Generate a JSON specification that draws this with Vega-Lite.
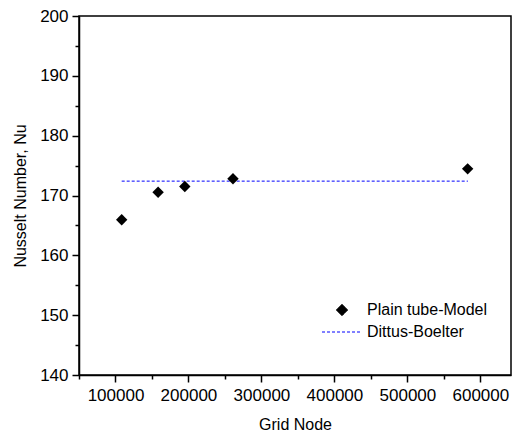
{
  "$schema": "https://vega.github.io/schema/vega-lite/v6.json",
  "width": 432,
  "height": 359,
  "autosize": {"type": "none"},
  "padding": {"left": 79, "top": 16, "right": 1, "bottom": 61},
  "config": {
    "font": "Liberation Sans",
    "view": {"stroke": "black", "strokeWidth": 1.5},
    "axis": {
      "domainColor": "black",
      "domainWidth": 1.5,
      "tickColor": "black",
      "tickWidth": 1.5,
      "grid": false,
      "labelColor": "black",
      "labelFontSize": 17,
      "labelOverlap": false,
      "titleColor": "black",
      "titleFontSize": 16,
      "titleFontWeight": "normal"
    }
  },
  "resolve": {"axis": {"x": "independent", "y": "independent"}},
  "datasets": {
    "model": [
      {"grid_node": 108500, "nu": 165.95, "series": "Plain tube-Model"},
      {"grid_node": 158400, "nu": 170.55, "series": "Plain tube-Model"},
      {"grid_node": 195000, "nu": 171.5, "series": "Plain tube-Model"},
      {"grid_node": 261000, "nu": 172.8, "series": "Plain tube-Model"},
      {"grid_node": 582600, "nu": 174.45, "series": "Plain tube-Model"}
    ],
    "db": [
      {"grid_node": 108500, "nu": 172.4, "series": "Dittus-Boelter"},
      {"grid_node": 583000, "nu": 172.4, "series": "Dittus-Boelter"}
    ]
  },
  "layer": [
    {
      "data": {"name": "db"},
      "mark": {"type": "line", "strokeDash": [3, 2], "strokeWidth": 1},
      "encoding": {
        "x": {
          "field": "grid_node", "type": "quantitative",
          "scale": {"domain": [50000, 642000], "nice": false, "zero": false},
          "axis": {
            "orient": "bottom",
            "title": "Grid Node",
            "values": [100000, 200000, 300000, 400000, 500000, 600000],
            "format": "d",
            "tickSize": 7,
            "labelPadding": 5,
            "titlePadding": 13
          }
        },
        "y": {
          "field": "nu", "type": "quantitative",
          "scale": {"domain": [140, 200], "nice": false, "zero": false},
          "axis": {
            "orient": "left",
            "title": "Nusselt Number, Nu",
            "values": [140, 150, 160, 170, 180, 190, 200],
            "format": "d",
            "tickSize": 7,
            "labelPadding": 4,
            "titlePadding": 11
          }
        },
        "color": {
          "field": "series", "type": "nominal",
          "scale": {"domain": ["Plain tube-Model", "Dittus-Boelter"], "range": ["black", "#0000ff"]},
          "legend": {
            "title": null,
            "orient": "none",
            "legendX": 255,
            "legendY": 286,
            "padding": 0,
            "symbolSize": 100,
            "labelOffset": 17,
            "labelFontSize": 16,
            "labelColor": "black",
            "rowPadding": 6,
            "encode": {
              "symbols": {
                "update": {
                  "shape": {"signal": "datum.value === 'Dittus-Boelter' ? 'stroke' : 'diamond'"},
                  "size": {"signal": "datum.value === 'Dittus-Boelter' ? 1600 : 130"},
                  "strokeDash": {"signal": "datum.value === 'Dittus-Boelter' ? [3, 2] : [1, 0]"},
                  "strokeWidth": {"value": 1},
                  "fill": {"signal": "datum.value === 'Dittus-Boelter' ? 'transparent' : 'black'"},
                  "stroke": {"signal": "datum.value === 'Dittus-Boelter' ? '#0000ff' : 'transparent'"},
                  "opacity": {"value": 1}
                }
              }
            }
          }
        }
      }
    },
    {
      "data": {"name": "model"},
      "mark": {"type": "point", "shape": "diamond", "filled": true, "size": 130, "opacity": 1},
      "encoding": {
        "x": {
          "field": "grid_node", "type": "quantitative",
          "axis": {
            "orient": "bottom",
            "title": null,
            "labels": false,
            "domain": false,
            "values": [50000, 150000, 250000, 350000, 450000, 550000],
            "tickSize": 4
          }
        },
        "y": {
          "field": "nu", "type": "quantitative",
          "axis": {
            "orient": "left",
            "title": null,
            "labels": false,
            "domain": false,
            "values": [145, 155, 165, 175, 185, 195],
            "tickSize": 4
          }
        },
        "color": {"field": "series", "type": "nominal"}
      }
    }
  ]
}
